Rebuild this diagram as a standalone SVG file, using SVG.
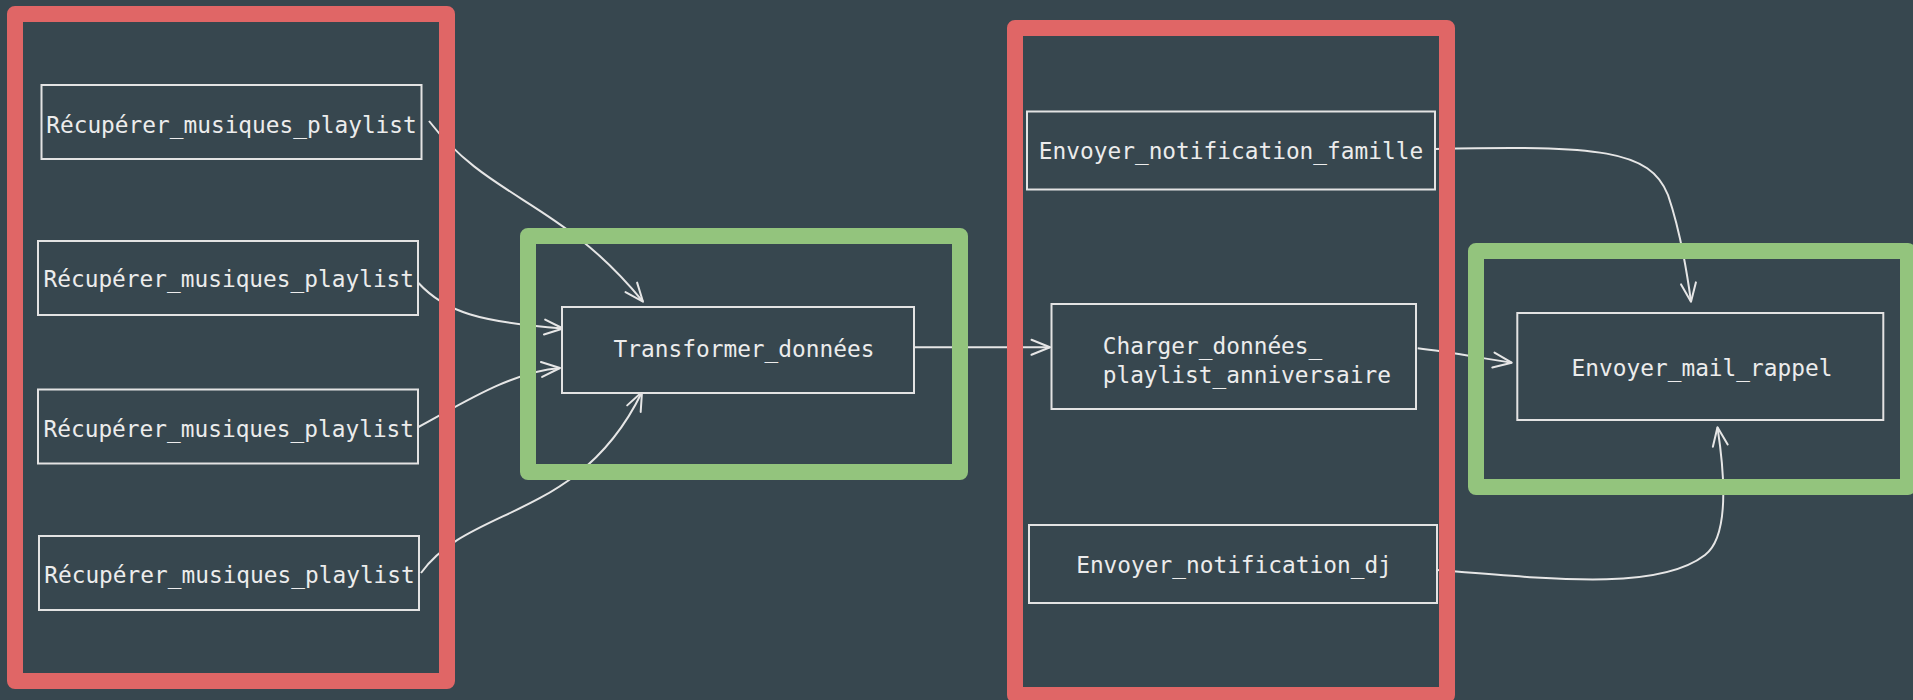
<svg xmlns="http://www.w3.org/2000/svg" width="1913" height="700" viewBox="0 0 1913 700">
<style>
.bg{fill:#37474f}
.node rect{fill:#37474f;stroke:#e3e3e3;stroke-width:2}
.node text{font-family:"DejaVu Sans Mono","Liberation Mono",monospace;font-size:22.8px;fill:#ececec;text-anchor:middle}
.edge{fill:none;stroke:#e6e6e6;stroke-width:2;marker-end:url(#arr)}
.red{fill:none;stroke:#e06666;stroke-width:16;stroke-linejoin:round}
.green{fill:none;stroke:#93c47d;stroke-width:16;stroke-linejoin:round}
</style>
<defs>
<marker id="arr" markerUnits="userSpaceOnUse" viewBox="-22 -11 24 22" markerWidth="24" markerHeight="22" refX="0" refY="0" orient="auto">
<path d="M-18.5,-7.5 L0,0 L-18.5,7.5" fill="none" stroke="#e6e6e6" stroke-width="2" stroke-linecap="round" stroke-linejoin="round"/>
</marker>
</defs>
<rect class="bg" x="0" y="0" width="1913" height="700"/>
<g id="connectors">
<path class="edge" d="M429,121 C490,200 560,200 643,301.7"/>
<path class="edge" d="M418.5,283 C445,312 480,322 563,328.5"/>
<path class="edge" d="M418.5,427 C460,405 510,372 560,368"/>
<path class="edge" d="M421,573 C470,505 580,520 642,392"/>
<path class="edge" d="M914.5,347.3 L1050,347.3"/>
<path class="edge" d="M1417.7,348.3 C1450,352 1480,358 1511.7,362.7"/>
<path class="edge" d="M1435,149 C1600,145 1650,150 1668,195 C1680,230 1686,265 1691,301.7"/>
<path class="edge" d="M1437,570 C1560,580 1660,590 1705,555 C1730,536 1724,470 1717.5,427.3"/>
</g>
<g id="frame_extract"><rect class="red" x="15" y="14" width="432" height="667"/></g>
<g id="frame_transform"><rect class="green" x="528" y="236" width="432" height="236"/></g>
<g id="frame_load"><rect class="red" x="1015" y="28" width="432" height="667"/></g>
<g id="frame_mail"><rect class="green" x="1476" y="251" width="432" height="236"/></g>
<g id="recup1" class="node"><rect x="41.5" y="85" width="380" height="74"/><text x="231.5" y="132.5">Récupérer_musiques_playlist</text></g>
<g id="recup2" class="node"><rect x="38" y="241" width="380" height="74"/><text x="228.8" y="286.7">Récupérer_musiques_playlist</text></g>
<g id="recup3" class="node"><rect x="38" y="389.5" width="380" height="74"/><text x="228.8" y="437">Récupérer_musiques_playlist</text></g>
<g id="recup4" class="node"><rect x="39" y="536" width="380" height="74"/><text x="229.5" y="583">Récupérer_musiques_playlist</text></g>
<g id="transformer" class="node"><rect x="562" y="307" width="352" height="86"/><text x="744" y="357.3">Transformer_données</text></g>
<g id="notif_famille" class="node"><rect x="1027" y="111.5" width="408" height="78"/><text x="1231" y="159">Envoyer_notification_famille</text></g>
<g id="charger" class="node"><rect x="1051.5" y="304" width="364.5" height="105"/><text x="1102.7" y="354" style="text-anchor:start">Charger_données_</text><text x="1102.7" y="382.7" style="text-anchor:start">playlist_anniversaire</text></g>
<g id="mail_rappel" class="node"><rect x="1517.3" y="313" width="366" height="107"/><text x="1702" y="376">Envoyer_mail_rappel</text></g>
<g id="notif_dj" class="node"><rect x="1029" y="525" width="408" height="78"/><text x="1234" y="572.7">Envoyer_notification_dj</text></g>
</svg>
